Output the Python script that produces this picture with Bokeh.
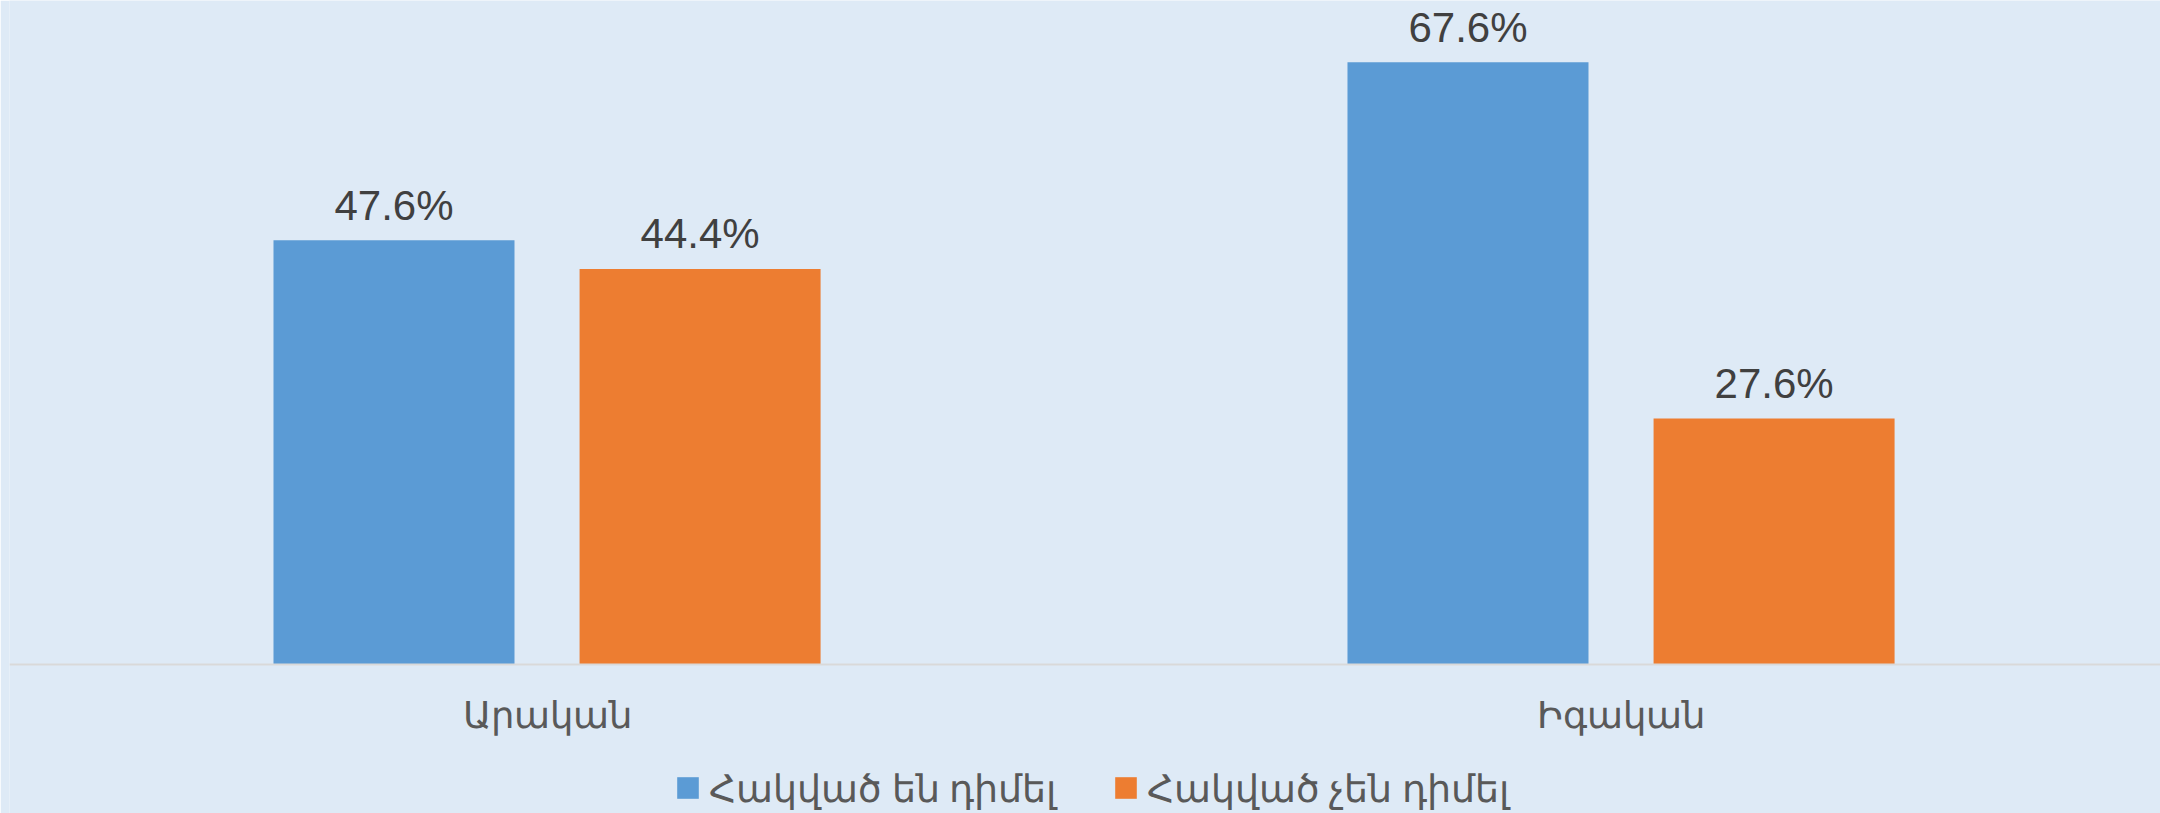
from bokeh.plotting import figure
from bokeh.models import Range1d, FixedTicker, Legend, LegendItem, ColumnDataSource
from bokeh.core.properties import value
from bokeh.embed import file_html
from bokeh.resources import INLINE

categories = ["Արական", "Իգական"]
series_names = ["Հակված են դիմել", "Հակված չեն դիմել"]
series_a = [47.6, 67.6]
series_b = [44.4, 27.6]
colors = ["#5B9BD5", "#ED7D31"]

BG = "#DEEAF6"

p = figure(frame_width=2151, frame_height=813,
           x_range=Range1d(-0.0005, 2.0023), y_range=Range1d(-16.72, 74.52),
           output_backend="svg", toolbar_location=None,
           min_border_left=9, min_border_right=0, min_border_top=0, min_border_bottom=0,
           background_fill_color=BG, border_fill_color=BG, outline_line_color=None)

p.yaxis.visible = False
p.xgrid.visible = False
p.ygrid.visible = False

centers = [i + 0.5 for i in range(len(categories))]
offset = 0.1425
bw = 0.2244

renderers = []
for k, (vals, col) in enumerate(zip([series_a, series_b], colors)):
    xs = [c + (-offset if k == 0 else offset) for c in centers]
    src = ColumnDataSource(dict(x=xs, top=vals, lab=[f"{v:.1f}%" for v in vals]))
    r = p.vbar(x="x", top="top", bottom=0, width=bw, source=src,
               fill_color=col, line_color=None)
    renderers.append(r)
    p.text(x="x", y="top", text="lab", source=src, text_align="center",
           text_baseline="alphabetic", y_offset=-35,
           text_font=value("Liberation Sans"), text_font_size="42px",
           text_color="#404040")

ax = p.xaxis[0]
ax.fixed_location = 0
ax.ticker = FixedTicker(ticks=centers)
ax.major_label_overrides = {c: n for c, n in zip(centers, categories)}
ax.major_tick_line_color = None
ax.minor_tick_line_color = None
ax.axis_line_color = "#D9D9D9"
ax.axis_line_width = 2
ax.major_label_text_font = "Noto Sans"
ax.major_label_text_font_size = "37px"
ax.major_label_text_color = "#595959"
ax.major_label_standoff = 17

legend = Legend(items=[LegendItem(label=n, renderers=[r]) for n, r in zip(series_names, renderers)],
                orientation="horizontal", location=(665, 0),
                glyph_width=27, glyph_height=27, label_standoff=8, spacing=55,
                padding=0, margin=0, border_line_color=None, background_fill_alpha=0,
                label_text_font="Noto Sans", label_text_font_size="37.5px",
                label_text_color="#595959")
p.add_layout(legend, "center")

html = file_html(p, INLINE)
open("out.html", "w").write(html)
